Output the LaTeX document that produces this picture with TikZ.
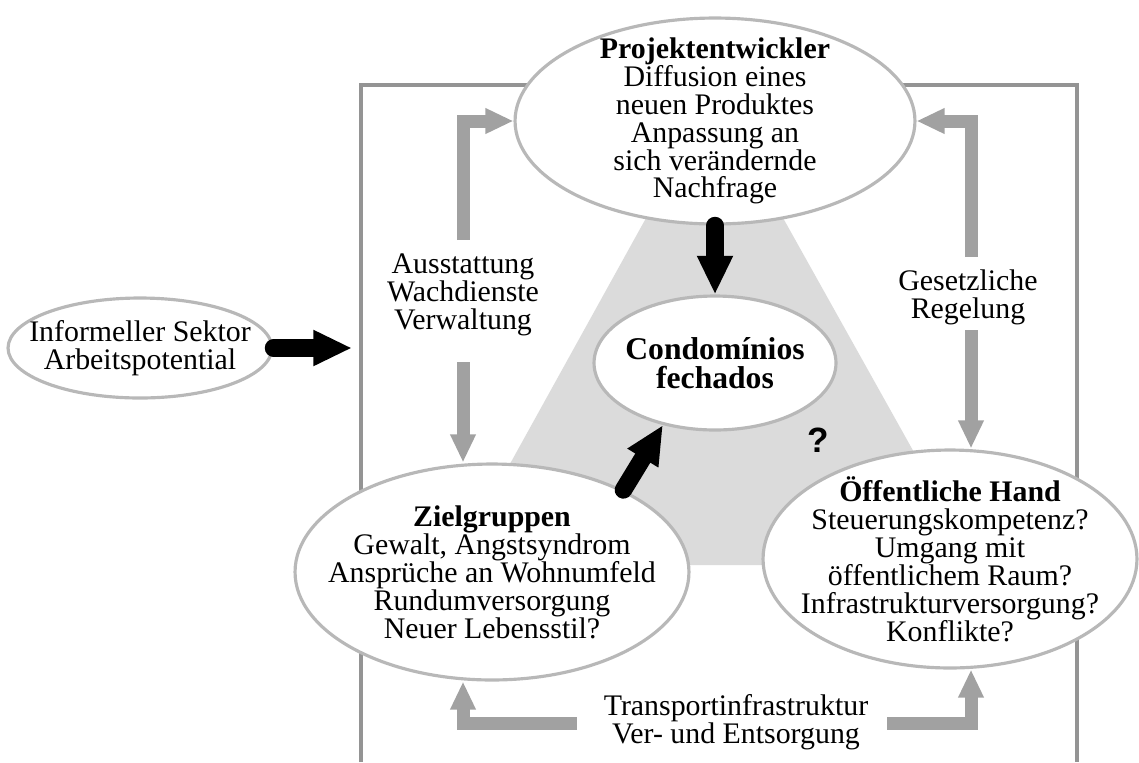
\documentclass[tikz,border=0pt]{standalone}
\usepackage{fontspec}
\setmainfont{Liberation Serif}
\newfontfamily\qfont{Liberation Sans}
\usepackage{tikz}
\usetikzlibrary{arrows.meta,shapes.geometric,backgrounds}

\definecolor{framegray}{gray}{0.58}
\definecolor{flowgray}{gray}{0.63}
\definecolor{rimgray}{gray}{0.72}
\definecolor{fieldgray}{gray}{0.86}

\begin{document}
\begin{tikzpicture}[x=0.02cm,y=-0.02cm,
  actor/.style={ellipse,draw=rimgray,line width=1.8pt,fill=white,inner sep=-20pt,
                align=center,font=\fontsize{17}{15.9}\selectfont},
  note/.style={align=center,font=\fontsize{17}{15.9}\selectfont},
  grayflow/.style={draw=flowgray,line width=7.4pt,line join=miter,
                   -{Triangle[width=13.6pt,length=16pt]}},
  blackflow/.style={draw=black,line width=10pt,line cap=round,
                    -{Triangle[width=19pt,length=22pt]}}]
  \useasboundingbox (0,0) rectangle (1139,762);

  \node[actor,minimum width=8cm,minimum height=4.12cm]     (proj) at (715,121)
    {\textbf{Projektentwickler}\\Diffusion eines\\neuen Produktes\\Anpassung an\\sich verändernde\\Nachfrage};
  \node[actor,minimum width=4.84cm,minimum height=2.68cm,
        font=\bfseries\fontsize{18}{16.5}\selectfont]      (cond) at (715,363)
    {Condomínios\\fechados};
  \node[actor,minimum width=7.88cm,minimum height=4.32cm]  (ziel) at (492,572)
    {\textbf{Zielgruppen}\\Gewalt, Angstsyndrom\\Ansprüche an Wohnumfeld\\Rundumversorgung\\Neuer Lebensstil?};
  \node[actor,minimum width=7.48cm,minimum height=4.36cm]  (oeff) at (950,559)
    {\textbf{Öffentliche Hand}\\Steuerungskompetenz?\\Umgang mit\\öffentlichem Raum?\\Infrastrukturversorgung?\\Konflikte?};
  \node[actor,minimum width=5.28cm,minimum height=2cm]     (inf)  at (140,348)
    {Informeller Sektor\\Arbeitspotential};

  \node[note] (aus)   at (463,295) {Ausstattung\\Wachdienste\\Verwaltung};
  \node[note] (ges)   at (968,297) {Gesetzliche\\Regelung};
  \node[note] (trans) at (736,722) {Transportinfrastruktur\\Ver- und Entsorgung};
  \node[font=\qfont\bfseries\fontsize{20}{20}\selectfont] (qm) at (818,440) {?};

  \coordinate (ausUp)   at (463,240);
  \coordinate (ausDown) at (463,362);
  \coordinate (gesUp)   at (971,257);
  \coordinate (gesDown) at (971,330);
  \coordinate (transL)  at (577,723);
  \coordinate (transR)  at (887,723);
  \coordinate (gate)    at (352,348);

  \begin{scope}[on background layer]
    \fill[fieldgray] (656,200) -- (773,200) -- (977,565) -- (454,565) -- cycle;
    \draw[framegray,line width=2.8pt] (361,762) -- (361,85) -- (1077,85) -- (1077,762);
  \end{scope}

  \draw[grayflow] (ausUp)   |- (proj);
  \draw[grayflow] (ausDown) -- (ausDown |- ziel.north);
  \draw[grayflow] (gesUp)   |- (proj);
  \draw[grayflow] (gesDown) -- (gesDown |- oeff.north);
  \draw[grayflow] (transL)  -| (ausDown |- ziel.south);
  \draw[grayflow] (transR)  -| (gesDown |- oeff.south);

  \draw[blackflow] (proj)    -- (cond);
  \draw[blackflow] (ziel.32) -- (cond.230);
  \draw[blackflow] (inf)     -- (gate);
\end{tikzpicture}
\end{document}
